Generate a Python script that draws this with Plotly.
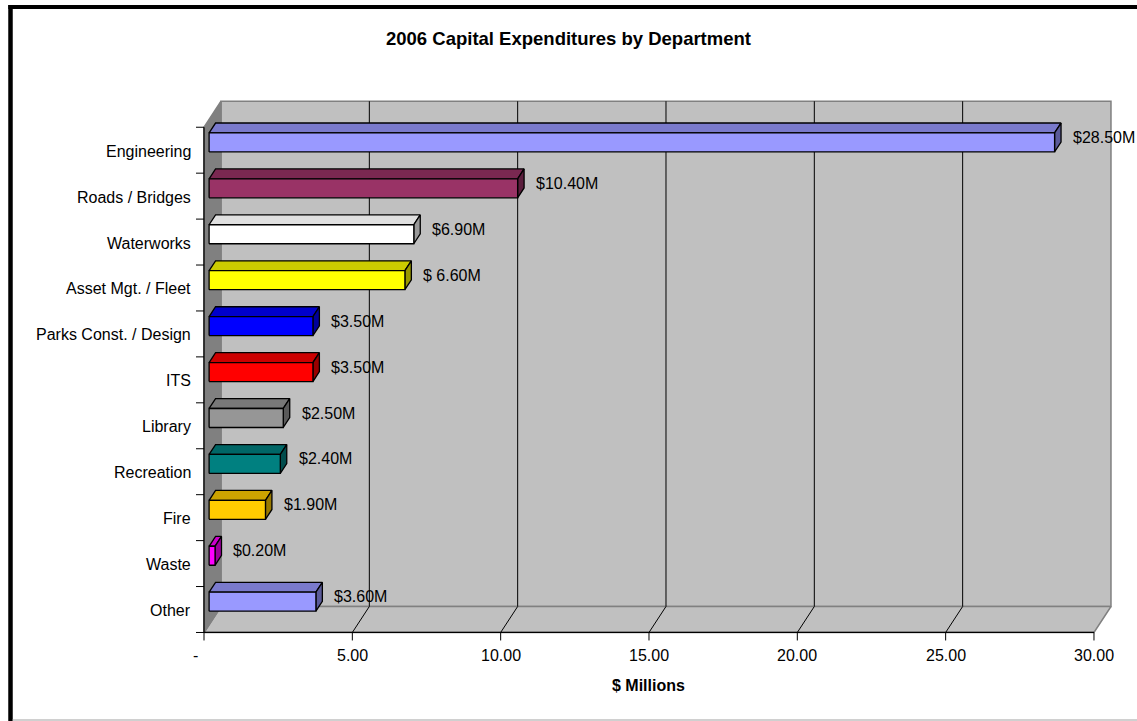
import plotly.graph_objects as go

# ---- data -------------------------------------------------------------
departments = [
    "Engineering", "Roads / Bridges", "Waterworks", "Asset Mgt. / Fleet",
    "Parks Const. / Design", "ITS", "Library", "Recreation", "Fire",
    "Waste", "Other",
]
spend_millions = [28.5, 10.4, 6.9, 6.6, 3.5, 3.5, 2.5, 2.4, 1.9, 0.2, 3.6]
value_labels = [
    "$28.50M", "$10.40M", "$6.90M", "$ 6.60M", "$3.50M", "$3.50M",
    "$2.50M", "$2.40M", "$1.90M", "$0.20M", "$3.60M",
]
x_ticks = [0, 5, 10, 15, 20, 25, 30]
x_tick_text = ["-\u00a0\u00a0\u00a0\u00a0", "5.00", "10.00", "15.00",
               "20.00", "25.00", "30.00"]

# ---- styling ----------------------------------------------------------
bar_colors = [
    "#9999FF", "#993366", "#FFFFFF", "#FFFF00", "#0000FF", "#FF0000",
    "#969696", "#008080", "#FFCC00", "#FF00FF", "#9999FF",
]
FONT = "Liberation Sans, Arial, sans-serif"
W, H = 1137, 721

# page geometry (pixels) of the front plane of the 3-D box
PX_PER_UNIT_X = 148.33 / 5.0
PX_PER_CAT = 45.93
X0_PX = 204.0          # x=0 on the front plane
Y0_PX = 609.5          # centre of the lowest category on the front plane
DEPTH_PX = (17.0, 26.0)  # projection of the full depth (right, up)

DX = DEPTH_PX[0] / PX_PER_UNIT_X
DY = DEPTH_PX[1] / PX_PER_CAT
X_MAX = 30
N = len(departments)
Y_LO, Y_HI = -0.5, N - 0.5
HALF_H = 9.5 / PX_PER_CAT     # half height of a bar's front face
F0, F1 = 0.30, 0.68           # front / back depth fractions of the bars


def shade(hex_color, k):
    h = hex_color.lstrip("#")
    r, g, b = (int(h[i:i + 2], 16) for i in (0, 2, 4))
    return "#%02X%02X%02X" % (int(r * k), int(g * k), int(b * k))


fig = go.Figure()


def poly(xs, ys, fill, line_color, width=1.3):
    fig.add_trace(go.Scatter(
        x=list(xs) + [xs[0]], y=list(ys) + [ys[0]], mode="lines",
        fill="toself", fillcolor=fill,
        line=dict(color=line_color, width=width),
        hoverinfo="skip", showlegend=False,
    ))


def seg(xs, ys, color, width=1.0):
    fig.add_trace(go.Scatter(
        x=xs, y=ys, mode="lines", line=dict(color=color, width=width),
        hoverinfo="skip", showlegend=False,
    ))


# ---- walls and floor --------------------------------------------------
poly([DX, X_MAX + DX, X_MAX + DX, DX],
     [Y_LO + DY, Y_LO + DY, Y_HI + DY, Y_HI + DY], "#C0C0C0", "#808080", 1.5)
poly([0, X_MAX, X_MAX + DX, DX],
     [Y_LO, Y_LO, Y_LO + DY, Y_LO + DY], "#C0C0C0", "#808080", 1.5)
poly([0, DX, DX, 0],
     [Y_LO, Y_LO + DY, Y_HI + DY, Y_HI], "#808080", "#808080", 1.5)

# gridlines on the back wall and floor
for t in x_ticks[1:-1]:
    seg([t + DX, t + DX], [Y_LO + DY, Y_HI + DY], "#000000", 1.0)
    seg([t, t + DX], [Y_LO, Y_LO + DY], "#000000", 1.0)

# ---- axes -------------------------------------------------------------
tick_x = 8.0 / PX_PER_UNIT_X
tick_y = 8.0 / PX_PER_CAT
seg([0, X_MAX], [Y_LO, Y_LO], "#000000", 1.3)
seg([0, 0], [Y_LO, Y_HI], "#000000", 1.3)
for t in x_ticks:
    seg([t, t], [Y_LO, Y_LO - tick_y], "#000000", 1.0)
for k in range(N + 1):
    yb = Y_LO + k
    seg([0, -tick_x], [yb, yb], "#000000", 1.0)

annotations = []
for t, txt in zip(x_ticks, x_tick_text):
    annotations.append(dict(
        x=t, y=Y_LO, text=txt, showarrow=False, xanchor="center",
        yanchor="top", yshift=-13, font=dict(family=FONT, size=16, color="#000")))

# ---- bars -------------------------------------------------------------
for i, (name, v, lab, col) in enumerate(
        zip(departments, spend_millions, value_labels, bar_colors)):
    c = N - 1 - i
    x0, x1 = F0 * DX, v + F0 * DX
    yb, yt = c - HALF_H + F0 * DY, c + HALF_H + F0 * DY
    ddx, ddy = (F1 - F0) * DX, (F1 - F0) * DY
    # top face
    poly([x0, x1, x1 + ddx, x0 + ddx], [yt, yt, yt + ddy, yt + ddy],
         shade(col, 0.80) if col != "#FFFFFF" else "#E0E0E0", "#000000")
    # side face
    poly([x1, x1 + ddx, x1 + ddx, x1], [yb, yb + ddy, yt + ddy, yt],
         shade(col, 0.60), "#000000")
    # front face
    poly([x0, x1, x1, x0], [yb, yb, yt, yt], col, "#000000")

    annotations.append(dict(
        x=x1 + ddx, y=c + (F0 + F1) / 2 * DY, text=lab, showarrow=False,
        xanchor="left", yanchor="middle", xshift=10,
        font=dict(family=FONT, size=16, color="#000")))
    annotations.append(dict(
        x=0, y=c, text=name, showarrow=False, xanchor="right",
        yanchor="middle", xshift=-11, yshift=-1,
        font=dict(family=FONT, size=16, color="#000")))

# titles
annotations.append(dict(
    x=0.5, y=1 - 39 / H, xref="paper", yref="paper",
    text="<b>2006 Capital Expenditures by Department</b>", showarrow=False,
    xanchor="center", yanchor="middle",
    font=dict(family=FONT, size=18.5, color="#000")))
annotations.append(dict(
    x=X_MAX / 2, y=Y_LO, text="<b>$ Millions</b>", showarrow=False,
    xanchor="center", yanchor="middle", yshift=-53,
    font=dict(family=FONT, size=16, color="#000")))

# outer frame of the chart object
frame = [
    dict(type="line", xref="paper", yref="paper",
         x0=10.5 / W, x1=10.5 / W, y0=0, y1=1 - 5 / H,
         line=dict(color="#000000", width=4.5)),
    dict(type="line", xref="paper", yref="paper",
         x0=8.3 / W, x1=1, y0=1 - 7 / H, y1=1 - 7 / H,
         line=dict(color="#000000", width=4)),
    dict(type="line", xref="paper", yref="paper",
         x0=12.7 / W, x1=1, y0=1 - 720 / H, y1=1 - 720 / H,
         line=dict(color="#C0C0C0", width=1.5)),
]

fig.update_layout(
    width=W, height=H, autosize=False,
    margin=dict(l=0, r=0, t=0, b=0),
    paper_bgcolor="#FFFFFF", plot_bgcolor="#FFFFFF",
    xaxis=dict(range=[-X0_PX / PX_PER_UNIT_X, (W - X0_PX) / PX_PER_UNIT_X],
               visible=False, fixedrange=True),
    yaxis=dict(range=[-(H - Y0_PX) / PX_PER_CAT, Y0_PX / PX_PER_CAT],
               visible=False, fixedrange=True),
    annotations=annotations,
    shapes=frame,
    showlegend=False,
)

fig.write_html("out.html")
